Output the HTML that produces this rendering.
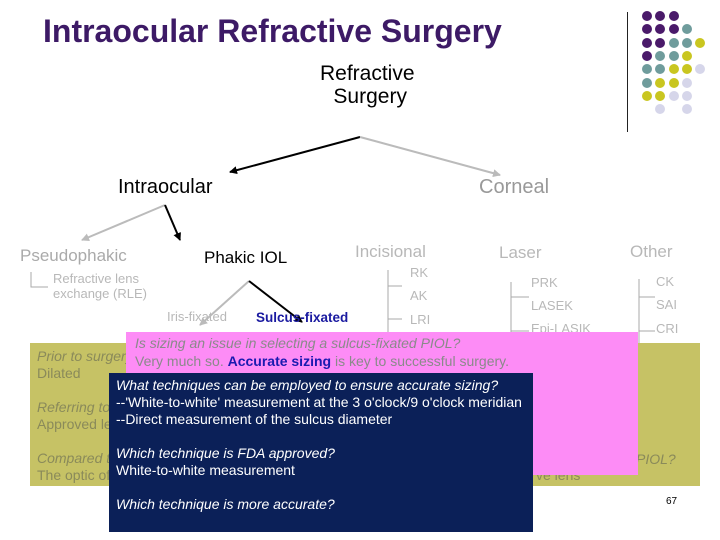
<!DOCTYPE html>
<html><head><style>
body{margin:0;width:720px;height:540px;background:#fff;position:relative;overflow:hidden;font-family:"Liberation Sans",sans-serif}
.t{position:absolute;white-space:nowrap}
.g{color:#b8b8b8}
.dot{position:absolute;width:10px;height:10px;border-radius:50%}
</style></head><body>
<div class="t" style="left:43px;top:13px;font-size:32px;font-weight:bold;color:#3d1a66">Intraocular Refractive Surgery</div>
<div style="position:absolute;left:627px;top:12px;width:1px;height:120px;background:#222"></div>
<div id="dots"></div>
<div class="t" style="left:320px;top:62px;font-size:21px;line-height:23px;color:#000;text-align:center">Refractive<br>&nbsp;Surgery</div>
<svg width="720" height="540" style="position:absolute;left:0;top:0">
<defs><marker id="ab" markerWidth="8" markerHeight="8" refX="7" refY="4" orient="auto" markerUnits="userSpaceOnUse"><path d="M0,0L8,4L0,8z" fill="#000"/></marker>
<marker id="ag" markerWidth="8" markerHeight="8" refX="7" refY="4" orient="auto" markerUnits="userSpaceOnUse"><path d="M0,0L8,4L0,8z" fill="#bbb"/></marker></defs>
<line x1="360" y1="137" x2="230" y2="172" stroke="#000" stroke-width="2" marker-end="url(#ab)"/>
<line x1="360" y1="137" x2="500" y2="175" stroke="#bbb" stroke-width="2" marker-end="url(#ag)"/>
<line x1="165" y1="205" x2="82" y2="240" stroke="#bbb" stroke-width="2" marker-end="url(#ag)"/>
<line x1="165" y1="205" x2="180" y2="240" stroke="#000" stroke-width="2" marker-end="url(#ab)"/>
<line x1="249" y1="281" x2="200" y2="325" stroke="#bbb" stroke-width="2" marker-end="url(#ag)"/>
<line x1="249" y1="281" x2="302" y2="322" stroke="#000" stroke-width="2" marker-end="url(#ab)"/>
<g stroke="#aaa" stroke-width="1" fill="none">
<path d="M31,272V287H48"/>
<path d="M388,270V351M388,286H402M388,319H402M388,351H402"/>
<path d="M511,282V366M511,297H529M511,331H529M511,366H529"/>
<path d="M639,279V366M639,297H655M639,331H655M639,366H655"/>
</g>
</svg>
<div class="t" style="left:118px;top:176px;font-size:20px;color:#000">Intraocular</div>
<div class="t" style="left:479px;top:176px;font-size:20px;color:#999">Corneal</div>
<div class="t g" style="left:20px;top:246px;font-size:17px;color:#aaa">Pseudophakic</div>
<div class="t" style="left:204px;top:248px;font-size:17px;color:#000">Phakic IOL</div>
<div class="t g" style="left:355px;top:242px;font-size:17px">Incisional</div>
<div class="t g" style="left:499px;top:243px;font-size:17px">Laser</div>
<div class="t g" style="left:630px;top:242px;font-size:17px">Other</div>
<div class="t g" style="left:53px;top:271px;font-size:13px;line-height:15px">Refractive lens<br>exchange (RLE)</div>
<div class="t g" style="left:167px;top:309px;font-size:13px">Iris-fixated</div>
<div class="t" style="left:256px;top:310px;font-size:13.5px;font-weight:bold;color:#1a1aa0">Sulcus-fixated</div>
<div class="t g" style="left:410px;top:265px;font-size:13px">RK</div>
<div class="t g" style="left:410px;top:288px;font-size:13px">AK</div>
<div class="t g" style="left:410px;top:312px;font-size:13px">LRI</div>
<div class="t g" style="left:531px;top:275px;font-size:13px">PRK</div>
<div class="t g" style="left:531px;top:298px;font-size:13px">LASEK</div>
<div class="t g" style="left:531px;top:321px;font-size:13px">Epi-LASIK</div>
<div class="t g" style="left:656px;top:274px;font-size:13px">CK</div>
<div class="t g" style="left:656px;top:297px;font-size:13px">SAI</div>
<div class="t g" style="left:656px;top:321px;font-size:13px">CRI</div>
<div style="position:absolute;left:30px;top:343px;width:670px;height:143px;background:#c6c265"></div>
<div class="t" style="left:37px;top:348px;font-size:14px;line-height:17px;color:#8a8a5a"><i>Prior to surgery</i><br>Dilated<br><br><i>Referring to</i><br>Approved le<br><br><i>Compared t</i><br>The optic of</div>
<div class="t" style="left:636px;top:451px;font-size:14px;color:#8a8a5a"><i>PIOL?</i></div>
<div class="t" style="left:536px;top:467px;font-size:14px;color:#8a8a5a">ve lens</div>
<div style="position:absolute;left:126px;top:332px;width:512px;height:143px;background:#fd8cf6"></div>
<div class="t" style="left:135px;top:334px;font-size:14px;line-height:18px;color:#8a8a8a"><i>Is sizing an issue in selecting a sulcus-fixated PIOL?</i><br>Very much so. <b style="color:#1a1ab0">Accurate sizing</b> is key to successful surgery.</div>
<div style="position:absolute;left:109px;top:373px;width:424px;height:159px;background:#0b2058"></div>
<div class="t" style="left:116px;top:377px;font-size:14px;line-height:17px;color:#fff"><i>What techniques can be employed to ensure accurate sizing?</i><br>--'White-to-white' measurement at the 3 o'clock/9 o'clock meridian<br>--Direct measurement of the sulcus diameter<br><br><i>Which technique is FDA approved?</i><br>White-to-white measurement<br><br><i>Which technique is more accurate?</i></div>
<div class="t" style="left:666px;top:496px;font-size:10px;color:#000">67</div>
<script>
var P="#4a1a6a",T="#6f9c9c",Y="#c9c620",L="#d6d6ea";
var rows=[[P,P,P],[P,P,P,T],[P,P,T,T,Y],[P,T,T,Y],[T,T,Y,Y,L],[T,Y,Y,L],[Y,Y,L,L],[0,L,0,L]];
var h="";rows.forEach(function(r,i){r.forEach(function(c,j){if(c)h+='<div class="dot" style="left:'+(642+j*13.3)+'px;top:'+(11+i*13.3)+'px;background:'+c+'"></div>';});});
document.getElementById("dots").innerHTML=h;
</script>
</body></html>
